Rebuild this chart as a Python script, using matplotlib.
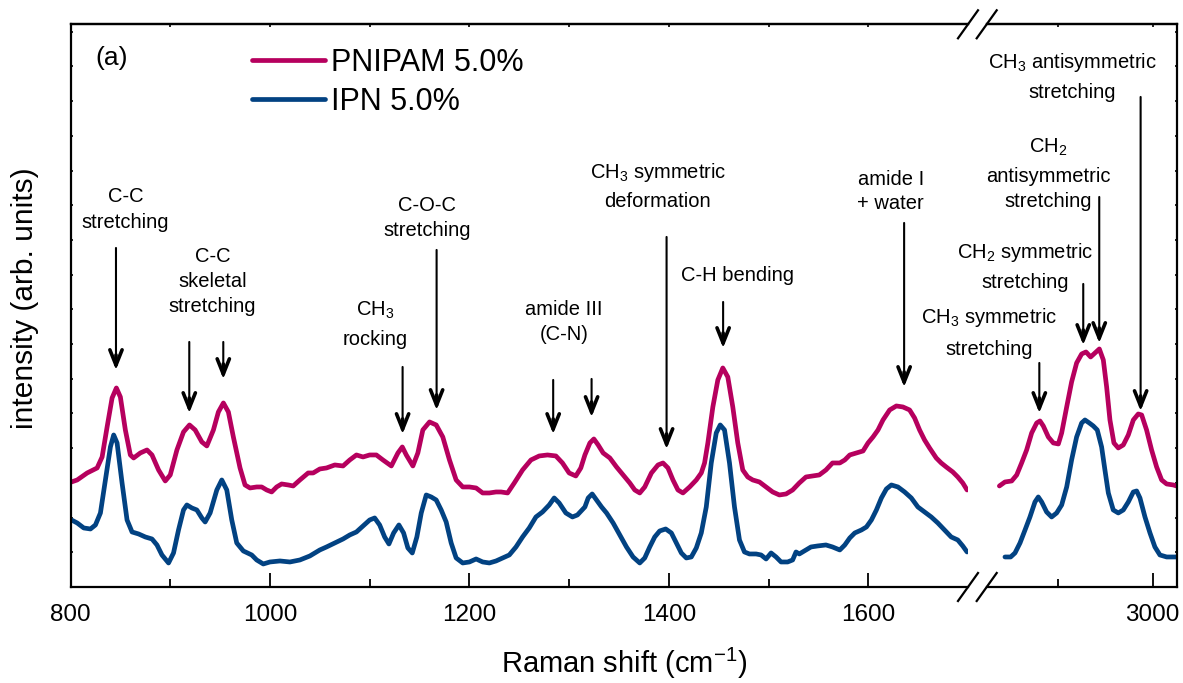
import matplotlib
matplotlib.use("Agg")
import matplotlib.pyplot as plt
import numpy as np
from matplotlib.lines import Line2D

plt.rcParams['font.family'] = ['Liberation Sans', 'DejaVu Sans']
plt.rcParams['mathtext.fontset'] = 'custom'
plt.rcParams['mathtext.rm'] = 'Liberation Sans'
plt.rcParams['mathtext.it'] = 'Liberation Sans:italic'
plt.rcParams['mathtext.default'] = 'regular'

# ---------------------------------------------------------------
# Spectra, left window (800 - 1700 cm-1)
# ---------------------------------------------------------------
pnipam_lo = np.array([
    (801, 1.05), (806.7, 1.07), (816.7, 1.14), (826.7, 1.19), (831.7, 1.30),
    (836.7, 1.60), (841.7, 1.89), (846, 1.99), (850, 1.90), (855, 1.57),
    (860, 1.32), (863.3, 1.29), (870, 1.34), (876.7, 1.37), (881.7, 1.32),
    (888.3, 1.17), (895, 1.06), (900, 1.12), (906.7, 1.37), (913.3, 1.55),
    (919.3, 1.62), (925, 1.57), (931.7, 1.45), (936.7, 1.41), (943.3, 1.57),
    (948.3, 1.75), (953.3, 1.84), (958.3, 1.75), (963.3, 1.50), (970, 1.19),
    (975, 1.02), (980, 0.99), (986.7, 1.00), (991.7, 1.00), (996.7, 0.97),
    (1001.7, 0.95), (1006.7, 1.00), (1011.7, 1.03), (1018.3, 1.02), (1023.3, 1.01),
    (1030, 1.07), (1038.3, 1.14), (1043.3, 1.14), (1050, 1.18), (1056.7, 1.19),
    (1065, 1.22), (1073.3, 1.21), (1080, 1.27), (1086.7, 1.32), (1093.3, 1.30),
    (1100, 1.32), (1106.7, 1.32), (1113.3, 1.27), (1121.7, 1.21), (1128.3, 1.34),
    (1132.7, 1.40), (1136.7, 1.32), (1143.3, 1.21), (1148.3, 1.34), (1153.3, 1.57),
    (1160, 1.65), (1166.7, 1.62), (1173.3, 1.50), (1180, 1.27), (1186.7, 1.07),
    (1193.3, 1.00), (1200, 1.00), (1206.7, 0.99), (1213.3, 0.94), (1220, 0.94),
    (1226.7, 0.95), (1231.7, 0.95), (1238.3, 0.94), (1245, 1.04), (1253.3, 1.17),
    (1261.7, 1.27), (1270, 1.31), (1278.3, 1.32), (1286.7, 1.31), (1293.3, 1.24),
    (1300, 1.14), (1306.7, 1.11), (1311.7, 1.19), (1315.8, 1.32), (1320.8, 1.44),
    (1324.8, 1.48), (1329.1, 1.42), (1334.1, 1.34), (1340.8, 1.29), (1347.5, 1.20),
    (1354.1, 1.12), (1360.8, 1.04), (1365.8, 0.97), (1370.8, 0.94), (1375.8, 1.00),
    (1382.5, 1.14), (1389.1, 1.22), (1394.1, 1.24), (1399.1, 1.19), (1404.1, 1.07),
    (1409.1, 0.97), (1414.1, 0.94), (1420.8, 1.00), (1427.5, 1.07), (1432.5, 1.14),
    (1435.8, 1.24), (1439.1, 1.44), (1444.1, 1.80), (1449.1, 2.07), (1454.1, 2.19),
    (1459.1, 2.10), (1464.1, 1.80), (1469.1, 1.44), (1474.1, 1.17), (1479.1, 1.10),
    (1484.1, 1.07), (1490.8, 1.05), (1497.5, 1.00), (1504.1, 0.95), (1510.8, 0.92),
    (1517.5, 0.93), (1524.1, 0.97), (1530.8, 1.04), (1537.5, 1.10), (1544.1, 1.11),
    (1550.8, 1.12), (1557.5, 1.17), (1564.1, 1.24), (1571.4, 1.24), (1576.4, 1.27),
    (1581.4, 1.32), (1588.1, 1.34), (1594.7, 1.36), (1599.7, 1.44), (1604.7, 1.50),
    (1609.7, 1.57), (1614.7, 1.67), (1621.4, 1.77), (1628.1, 1.81), (1634.7, 1.80),
    (1641.4, 1.77), (1646.4, 1.69), (1651.4, 1.57), (1656.4, 1.47), (1661.4, 1.39),
    (1668.1, 1.29), (1673.1, 1.24), (1678.1, 1.20), (1684.7, 1.15), (1689.7, 1.10),
    (1694.7, 1.04), (1699, 0.97)])

ipn_lo = np.array([
    (801, 0.67), (806.7, 0.64), (813.3, 0.59), (820, 0.58), (825, 0.62),
    (830, 0.74), (835, 1.07), (840, 1.40), (843.3, 1.52), (846.7, 1.44),
    (851.7, 1.04), (856.7, 0.67), (861.7, 0.55), (868.3, 0.53), (875, 0.50),
    (881.7, 0.48), (886.7, 0.42), (891.7, 0.32), (898.3, 0.24), (903.3, 0.34),
    (908.3, 0.57), (913.3, 0.77), (916.7, 0.82), (921.7, 0.79), (926.7, 0.77),
    (931.7, 0.69), (935, 0.65), (940, 0.74), (946.7, 0.97), (951.7, 1.07),
    (956.7, 0.97), (961.7, 0.67), (966.7, 0.44), (973.3, 0.36), (981.7, 0.32),
    (986.7, 0.27), (993.3, 0.23), (1000, 0.25), (1010, 0.26), (1020, 0.25),
    (1030, 0.27), (1040, 0.31), (1046.7, 0.35), (1050, 0.37), (1056.7, 0.40),
    (1065, 0.44), (1073.3, 0.48), (1080, 0.52), (1086.7, 0.55), (1093.3, 0.61),
    (1100, 0.67), (1105, 0.69), (1110, 0.62), (1115, 0.50), (1119.3, 0.43),
    (1124, 0.54), (1129.3, 0.62), (1134, 0.54), (1138.3, 0.39), (1142.7, 0.34),
    (1147.3, 0.50), (1151.7, 0.74), (1156.7, 0.92), (1161.7, 0.90), (1166.7, 0.87),
    (1171.7, 0.77), (1176.7, 0.65), (1181.7, 0.44), (1186.7, 0.29), (1193.3, 0.24),
    (1200, 0.25), (1206.7, 0.28), (1213.3, 0.25), (1220, 0.24), (1226.7, 0.26),
    (1233.3, 0.29), (1240, 0.32), (1246.7, 0.40), (1253.3, 0.50), (1260, 0.59),
    (1266.7, 0.70), (1273.3, 0.75), (1280, 0.82), (1285, 0.89), (1290, 0.84),
    (1296.7, 0.74), (1303.3, 0.70), (1308.3, 0.72), (1315.8, 0.80), (1319.1, 0.89),
    (1323.1, 0.93), (1327.5, 0.87), (1332.5, 0.80), (1337.5, 0.74), (1344.1, 0.64),
    (1350.8, 0.52), (1357.5, 0.40), (1364.1, 0.30), (1370.8, 0.24), (1375.8, 0.29),
    (1380.8, 0.40), (1385.8, 0.50), (1390.8, 0.56), (1396.8, 0.58), (1402.5, 0.54),
    (1407.5, 0.44), (1412.5, 0.34), (1417.5, 0.29), (1422.5, 0.30), (1427.5, 0.39),
    (1432.5, 0.54), (1437.5, 0.80), (1442.5, 1.24), (1447.5, 1.54), (1451.5, 1.62),
    (1455.8, 1.57), (1460.8, 1.24), (1465.8, 0.80), (1470.8, 0.47), (1475.8, 0.35),
    (1480.8, 0.33), (1487.5, 0.33), (1492.5, 0.32), (1497.5, 0.28), (1502.5, 0.34),
    (1507.5, 0.30), (1512.5, 0.25), (1519.1, 0.25), (1524.1, 0.27), (1527.5, 0.35),
    (1530.8, 0.33), (1535.8, 0.36), (1542.5, 0.40), (1549.1, 0.41), (1557.5, 0.42),
    (1564.1, 0.40), (1571.4, 0.37), (1576.4, 0.42), (1581.4, 0.49), (1586.4, 0.54),
    (1593.1, 0.57), (1598.1, 0.60), (1603.1, 0.67), (1608.1, 0.77), (1613.1, 0.89),
    (1618.1, 0.98), (1623.1, 1.02), (1629.7, 1.00), (1636.4, 0.95), (1643.1, 0.89),
    (1649.7, 0.80), (1656.4, 0.75), (1663.1, 0.70), (1669.7, 0.64), (1676.4, 0.57),
    (1683.1, 0.50), (1689.7, 0.47), (1694.7, 0.41), (1699, 0.35)])

# ---------------------------------------------------------------
# Spectra, right window (C-H stretching region)
# ---------------------------------------------------------------
pnipam_hi = np.array([
    (2838.1, 1.01), (2844.0, 1.05), (2851.1, 1.06), (2856.4, 1.12), (2861.6, 1.24),
    (2866.9, 1.37), (2872.2, 1.54), (2877.5, 1.64), (2881.0, 1.66), (2884.5, 1.61),
    (2889.8, 1.50), (2895.1, 1.44), (2900.4, 1.43), (2903.9, 1.54), (2909.2, 1.80),
    (2914.4, 2.05), (2919.7, 2.24), (2925.0, 2.33), (2929.6, 2.35), (2934.5, 2.30),
    (2939.1, 2.34), (2943.7, 2.38), (2947.9, 2.27), (2951.4, 2.00), (2954.9, 1.67),
    (2959.1, 1.44), (2963.7, 1.39), (2969.0, 1.42), (2974.3, 1.52), (2979.6, 1.67),
    (2984.8, 1.73), (2988.4, 1.72), (2993.6, 1.57), (2998.9, 1.37), (3004.2, 1.20),
    (3009.5, 1.07), (3014.8, 1.03), (3021.8, 1.02), (3025.3, 1.01)])

ipn_hi = np.array([
    (2844.0, 0.30), (2850.0, 0.30), (2854.6, 0.34), (2859.9, 0.44), (2865.2, 0.57),
    (2870.4, 0.70), (2875.7, 0.85), (2879.2, 0.90), (2882.8, 0.85), (2888.0, 0.75),
    (2893.3, 0.70), (2898.6, 0.74), (2903.9, 0.82), (2909.2, 1.00), (2914.4, 1.27),
    (2919.7, 1.50), (2925.0, 1.64), (2928.5, 1.67), (2933.1, 1.64), (2937.3, 1.61),
    (2941.5, 1.57), (2946.1, 1.40), (2949.6, 1.17), (2953.2, 0.94), (2958.4, 0.77),
    (2963.7, 0.74), (2969.0, 0.77), (2974.3, 0.85), (2979.6, 0.95), (2983.1, 0.96),
    (2986.6, 0.89), (2991.9, 0.70), (2997.2, 0.54), (3002.4, 0.40), (3007.7, 0.32),
    (3014.8, 0.30), (3025.3, 0.30)])

series_labels = ['PNIPAM 5.0%', 'IPN 5.0%']
series_colors = ['#B6005E', '#024282']

# band assignments: (x position, arrow tail, arrow tip)
arrows_lo = [(845.6, 3.39, 2.17), (919.1, 2.45, 1.74), (953.2, 2.45, 2.08),
             (1133.0, 2.20, 1.53), (1167.1, 3.37, 1.77), (1284.0, 2.07, 1.53),
             (1322.5, 2.08, 1.70), (1397.7, 3.50, 1.38), (1454.4, 2.85, 2.39),
             (1635.9, 3.64, 2.00)]
arrows_hi = [(2880.3, 2.24, 1.74), (2926.7, 3.03, 2.42), (2943.6, 3.90, 2.44),
             (2987.3, 4.90, 1.76)]

# text labels: (x, [y of each line], [lines])
labels_lo = [
    (855.1, [3.90, 3.64], ['C-C', 'stretching']),
    (942.5, [3.30, 3.05, 2.80], ['C-C', 'skeletal', 'stretching']),
    (1105.8, [2.77, 2.47], ['CH$_3$', 'rocking']),
    (1157.4, [3.81, 3.56], ['C-O-C', 'stretching']),
    (1295.0, [2.77, 2.52], ['amide III', '(C-N)']),
    (1389.0, [4.14, 3.85], ['CH$_3$ symmetric', 'deformation']),
    (1468.9, [3.11], ['C-H bending']),
    (1622.5, [4.07, 3.83], ['amide I', '+ water']),
]
labels_hi = [
    (2914.8, [5.24, 4.94], ['CH$_3$ antisymmetric', 'stretching']),
    (2890.0, [4.40, 4.10, 3.85], ['CH$_2$', 'antisymmetric', 'stretching']),
    (2865.2, [3.34, 3.04], ['CH$_2$ symmetric', 'stretching']),
    (2827.1, [2.69, 2.37], ['CH$_3$ symmetric', 'stretching']),
]

# ---------------------------------------------------------------
fig = plt.figure(figsize=(11.83, 6.83), dpi=100)
ax1 = fig.add_axes([0.0596, 0.1406, 0.7587, 0.8239])
ax2 = fig.add_axes([0.8343, 0.1406, 0.1606, 0.8239], sharey=ax1)

lines = []
for data_lo, data_hi, col in zip([pnipam_lo, ipn_lo], [pnipam_hi, ipn_hi], series_colors):
    l, = ax1.plot(data_lo[:, 0], data_lo[:, 1], color=col, lw=3.4,
                  solid_capstyle='round', solid_joinstyle='round')
    ax2.plot(data_hi[:, 0], data_hi[:, 1], color=col, lw=3.4,
             solid_capstyle='round', solid_joinstyle='round')
    lines.append(l)

ax1.set_xlim(800, 1700)
ax2.set_xlim(2825, 3025.7)
ax1.set_ylim(0, 5.627)

for ax, major, minor in [(ax1, [800, 1000, 1200, 1400, 1600], [900, 1100, 1300, 1500]),
                         (ax2, [3000], [2900])]:
    ax.set_xticks(major)
    ax.set_xticks(minor, minor=True)
    ax.set_yticks(np.arange(0, 5.6, 0.347))
    ax.tick_params(axis='x', which='major', direction='in', length=10, width=1.3,
                   labelsize=17.5, pad=12.5)
    ax.tick_params(axis='x', which='minor', direction='in', length=5.8, width=1.3)
    ax.tick_params(axis='y', direction='in', length=1.6, width=1.2,
                   labelleft=False, labelright=False)
    for sp in ax.spines.values():
        sp.set_linewidth(1.6)
    top = ax.secondary_xaxis('top')
    top.set_xticks(major)
    top.set_xticks(minor, minor=True)
    top.tick_params(which='both', direction='in', length=1.8, width=1.2, labeltop=False)
    top.spines['top'].set_linewidth(1.6)

ax1.spines['right'].set_visible(False)
ax1.tick_params(axis='y', left=True, right=False)
ax2.spines['left'].set_visible(False)
ax2.tick_params(axis='y', left=False, right=True)

# break marks
for yb in [587, 24.3]:
    for xc in [968, 986.7]:
        fig.add_artist(Line2D([(xc - 10) / 1183, (xc + 10) / 1183],
                              [1 - (yb + 14) / 683, 1 - (yb - 14) / 683],
                              color='k', lw=1.6, transform=fig.transFigure))

shaft_kw = dict(arrowstyle='-', lw=1.5, color='k', shrinkA=0, shrinkB=0)
head_kw = dict(arrowstyle='->,head_length=0.55,head_width=0.22', lw=2.6,
               color='k', shrinkA=0, shrinkB=0, mutation_scale=20)
for ax, arrs in [(ax1, arrows_lo), (ax2, arrows_hi)]:
    for x, tail, tip in arrs:
        ax.annotate('', xy=(x, tip + 0.03), xytext=(x, tail), arrowprops=shaft_kw)
        ax.annotate('', xy=(x, tip), xytext=(x, tip + 0.15), arrowprops=head_kw)

for ax, labs in [(ax1, labels_lo), (ax2, labels_hi)]:
    for x, ys, texts in labs:
        for y, s in zip(ys, texts):
            ax.text(x, y, s, ha='center', va='center', fontsize=14.5)

ax1.text(0.046, 0.94, '(a)', transform=ax1.transAxes, ha='center', va='center',
         fontsize=19)

ax1.legend(lines, series_labels, loc='upper left', bbox_to_anchor=(0.2022, 0.958),
           frameon=False, fontsize=22, handlelength=2.4, handletextpad=0.2,
           labelspacing=0.3, borderpad=0, borderaxespad=0)

fig.text(624 / 1183, 20 / 683, 'Raman shift (cm$^{-1}$)', ha='center', va='center',
         fontsize=21)
fig.text(25 / 1183, 1 - 298 / 683, 'intensity (arb. units)', ha='center', va='center',
         rotation=90, fontsize=21.5)

fig.savefig('out.png', dpi=100)
